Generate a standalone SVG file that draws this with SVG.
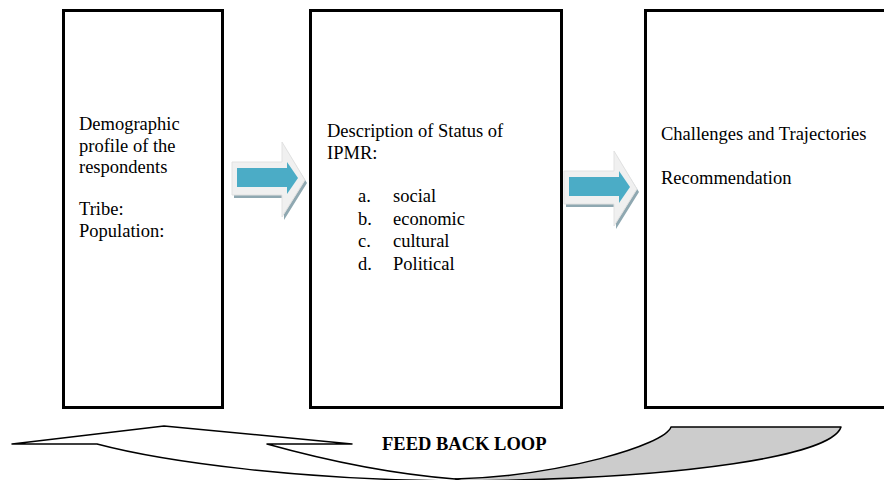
<svg xmlns="http://www.w3.org/2000/svg" width="884" height="480" viewBox="0 0 884 480">
<style>
.box{fill:#fff;stroke:#000;stroke-width:3}
.t{font-family:'Liberation Serif','Tinos','Times New Roman','DejaVu Serif','Noto Serif',serif;font-size:18.5px;fill:#000}
.b{font-family:'Liberation Serif','Tinos','Times New Roman','DejaVu Serif','Noto Serif',serif;font-size:18.5px;font-weight:bold;fill:#000}
.sh{fill:#8fa8b1}
.outer{fill:#f0f0f0;stroke:#e2e2e2;stroke-width:1}
.blue{fill:#4bacc6}
.loop{stroke:#000;stroke-width:1.5;stroke-linejoin:round}
</style>
<defs>
<g id="arr">
<polygon class="sh" points="2,-14 52,-14 52,-33 75,4 52,41 52,19 2,19"/>
<polygon class="outer" points="0,-17 50,-17 50,-37 73,1 50,38 50,16 0,16"/>
<polygon class="blue" points="5,-11 55,-11 55,-17 66,-1 55,15 55,8 5,8"/>
</g>
</defs>
<g id="box1">
<rect class="box" x="63.5" y="10.5" width="159" height="397"/>
<text class="t" x="79" y="130">Demographic</text>
<text class="t" x="79" y="151.5">profile of the</text>
<text class="t" x="79" y="173">respondents</text>
<text class="t" x="79" y="215">Tribe:</text>
<text class="t" x="79" y="236.5">Population:</text>
</g>
<g id="box2">
<rect class="box" x="310.5" y="10.5" width="251" height="397"/>
<text class="t" x="327" y="137">Description of Status of</text>
<text class="t" x="327" y="159">IPMR:</text>
<text class="t" x="358" y="202">a.</text><text class="t" x="393" y="202">social</text>
<text class="t" x="358" y="224.5">b.</text><text class="t" x="393" y="224.5">economic</text>
<text class="t" x="358" y="247">c.</text><text class="t" x="393" y="247">cultural</text>
<text class="t" x="358" y="269.5">d.</text><text class="t" x="393" y="269.5">Political</text>
</g>
<g id="box3">
<rect class="box" x="645.5" y="10.5" width="260" height="397"/>
<text class="t" x="661" y="140">Challenges and Trajectories</text>
<text class="t" x="661" y="184">Recommendation</text>
</g>
<g id="connectors">
<use href="#arr" transform="translate(232,179)"/>
<use href="#arr" transform="translate(564,188)"/>
<g id="feedback">
<path class="loop" fill="#cccccc" d="M671,427 L841,427 C832,455 690,479 460,481 L455,479 C560,476 665,445 671,427 Z"/>
<path class="loop" fill="#ffffff" d="M12,444 L164,426 L352,444 L267,444 C310,456 380,473 455,479 L462,481 C300,480 165,462 97,444 Z"/>
</g>
</g>
<text class="b" x="382" y="450">FEED BACK LOOP</text>
</svg>
